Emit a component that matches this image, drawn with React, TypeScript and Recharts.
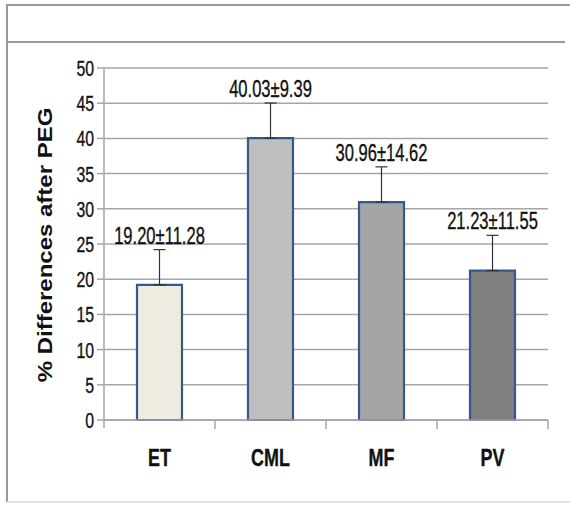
import React from "react";
import {
  BarChart,
  Bar,
  XAxis,
  YAxis,
  CartesianGrid,
  Cell,
  ErrorBar,
  LabelList,
} from "recharts";

const groups = ["ET", "CML", "MF", "PV"];
const means = [19.2, 40.03, 30.96, 21.23];
const sds = [11.28, 9.39, 14.62, 11.55];
const errUp = [5, 5, 5, 5];
const yTicks = [0, 5, 10, 15, 20, 25, 30, 35, 40, 45, 50];

const fills = ["#EEECE1", "#BFBFBF", "#A5A5A5", "#7F7F7F"];
const SANS = "'Liberation Sans', Arial, sans-serif";
const GRID = "#A6A6A6";

const data = groups.map((g, i) => ({
  name: g,
  mean: means[i],
  err: [0, errUp[i]],
  label: `${means[i].toFixed(2)}±${sds[i].toFixed(2)}`,
}));

// text squeezed horizontally, like the stretched original
function Squeezed({ x, y, sx, children, ...rest }: any) {
  return (
    <text
      transform={`translate(${x},${y}) scale(${sx},1)`}
      fontFamily={SANS}
      fill="#111"
      stroke="#111"
      strokeWidth={0.35}
      {...rest}
    >
      {children}
    </text>
  );
}

function XTick(props: any) {
  const { x, y, payload, index, width, visibleTicksCount } = props;
  const band = width / visibleTicksCount;
  const axisY = y - 8;
  return (
    <g>
      {index === 0 && (
        <line x1={x - band / 2} x2={x - band / 2} y1={axisY} y2={axisY + 8} stroke={GRID} strokeWidth={1.5} />
      )}
      <line x1={x + band / 2} x2={x + band / 2} y1={axisY} y2={axisY + 9} stroke={GRID} strokeWidth={1.5} />
      <Squeezed x={x} y={axisY + 46} sx={0.78} textAnchor="middle" fontWeight="bold" fontSize={23}>
        {payload.value}
      </Squeezed>
    </g>
  );
}

function YTick(props: any) {
  const { x, y, payload } = props;
  return (
    <Squeezed x={x - 1} y={y + 8} sx={0.72} textAnchor="end" fontSize={22}>
      {payload.value}
    </Squeezed>
  );
}

function YLabel(props: any) {
  const { viewBox } = props;
  const cx = viewBox.x + 8;
  const cy = viewBox.y + viewBox.height / 2 + 1;
  return (
    <text
      transform={`translate(${cx},${cy}) scale(0.88,1) rotate(-90)`}
      textAnchor="middle"
      fontFamily={SANS}
      fontWeight="bold"
      fontSize={24}
      fill="#111"
    >
      % Differences after PEG
    </text>
  );
}

function TopLabel(props: any) {
  const { x, y, width, height, value, index } = props;
  const pxPerUnit = height / means[index];
  const top = y - errUp[index] * pxPerUnit;
  return (
    <Squeezed x={x + width / 2} y={top - 6} sx={0.72} textAnchor="middle" fontSize={23}>
      {value}
    </Squeezed>
  );
}

export default function App() {
  return (
    <div style={{ position: "absolute", left: 0, top: 0, width: 570, height: 505, background: "#fff" }}>
      <div style={{ position: "absolute", left: 7, top: 4, width: 563, height: 0, borderTop: "2px solid #9A9A9A" }} />
      <div style={{ position: "absolute", left: 7, top: 41, width: 558, height: 0, borderTop: "2px solid #9A9A9A" }} />
      <div style={{ position: "absolute", left: 6, top: 4, width: 0, height: 498, borderLeft: "2px solid #9A9A9A" }} />
      <div style={{ position: "absolute", left: 7, top: 501, width: 563, height: 0, borderTop: "2px solid #E2E2E2" }} />
      <div style={{ position: "absolute", left: 0, top: 0 }}>
        <BarChart
          width={570}
          height={505}
          data={data}
          margin={{ top: 68, right: 22, bottom: 45, left: 44 }}
          barCategoryGap={0}
        >
          <CartesianGrid vertical={false} stroke={GRID} strokeWidth={1.5} />
          <XAxis
            dataKey="name"
            height={40}
            axisLine={{ stroke: GRID, strokeWidth: 1.5 }}
            tickLine={false}
            tick={<XTick />}
            interval={0}
          />
          <YAxis
            width={60}
            domain={[0, 50]}
            ticks={yTicks}
            interval={0}
            axisLine={{ stroke: GRID, strokeWidth: 1.5 }}
            tickLine={{ stroke: GRID, strokeWidth: 1.5 }}
            tickSize={7}
            tick={<YTick />}
            label={<YLabel />}
          />
          <Bar
            dataKey="mean"
            barSize={45}
            stroke="#34598A"
            strokeWidth={2.2}
            isAnimationActive={false}
          >
            {data.map((d, i) => (
              <Cell key={d.name} fill={fills[i]} />
            ))}
            <ErrorBar dataKey="err" width={6} stroke="#333" strokeWidth={1.2} direction="y" />
            <LabelList dataKey="label" content={<TopLabel />} />
          </Bar>
        </BarChart>
      </div>
    </div>
  );
}
